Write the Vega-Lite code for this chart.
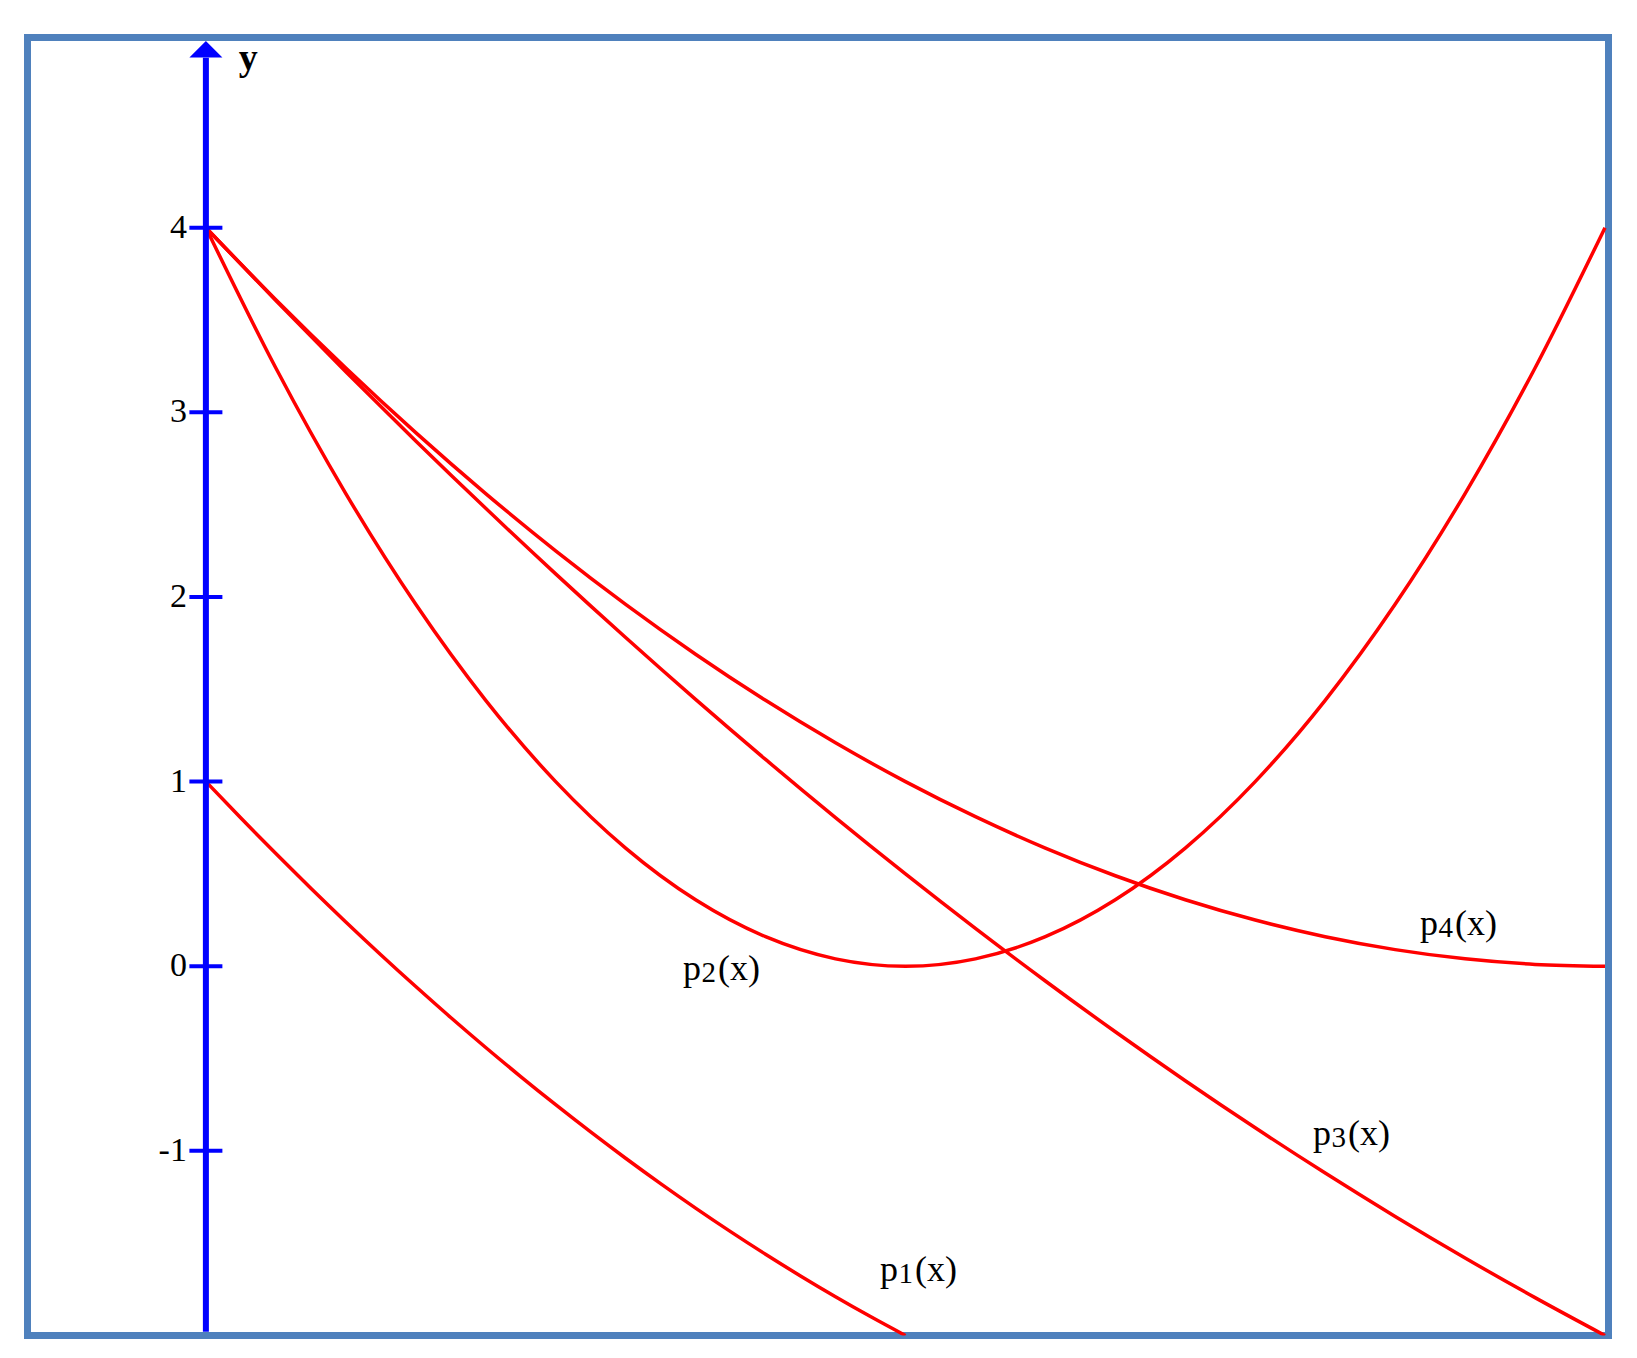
{
  "$schema": "https://vega.github.io/schema/vega-lite/v6.json",
  "width": 1581,
  "height": 1298,
  "autosize": "none",
  "padding": {"left": 27.5, "top": 37.5, "right": 28.5, "bottom": 22.5},
  "background": "white",
  "config": {
    "view": {"stroke": "#4f81bd", "strokeWidth": 7},
    "text": {"font": "Liberation Serif", "color": "black"}
  },
  "datasets": {
    "curves": [
      {"fn": "p1", "x": 0.0, "y": 1.0},
      {"fn": "p1", "x": 0.1, "y": 0.8025},
      {"fn": "p1", "x": 0.2, "y": 0.61},
      {"fn": "p1", "x": 0.3, "y": 0.4225},
      {"fn": "p1", "x": 0.4, "y": 0.24},
      {"fn": "p1", "x": 0.5, "y": 0.0625},
      {"fn": "p1", "x": 0.6, "y": -0.11},
      {"fn": "p1", "x": 0.7, "y": -0.2775},
      {"fn": "p1", "x": 0.8, "y": -0.44},
      {"fn": "p1", "x": 0.9, "y": -0.5975},
      {"fn": "p1", "x": 1.0, "y": -0.75},
      {"fn": "p1", "x": 1.1, "y": -0.8975},
      {"fn": "p1", "x": 1.2, "y": -1.04},
      {"fn": "p1", "x": 1.3, "y": -1.1775},
      {"fn": "p1", "x": 1.4, "y": -1.31},
      {"fn": "p1", "x": 1.5, "y": -1.4375},
      {"fn": "p1", "x": 1.6, "y": -1.56},
      {"fn": "p1", "x": 1.7, "y": -1.6775},
      {"fn": "p1", "x": 1.8, "y": -1.79},
      {"fn": "p1", "x": 1.9, "y": -1.8975},
      {"fn": "p1", "x": 2.0, "y": -2.0},
      {"fn": "p2", "x": 0.0, "y": 4.0},
      {"fn": "p2", "x": 0.2, "y": 3.24},
      {"fn": "p2", "x": 0.4, "y": 2.56},
      {"fn": "p2", "x": 0.6, "y": 1.96},
      {"fn": "p2", "x": 0.8, "y": 1.44},
      {"fn": "p2", "x": 1.0, "y": 1.0},
      {"fn": "p2", "x": 1.2, "y": 0.64},
      {"fn": "p2", "x": 1.4, "y": 0.36},
      {"fn": "p2", "x": 1.6, "y": 0.16},
      {"fn": "p2", "x": 1.8, "y": 0.04},
      {"fn": "p2", "x": 2.0, "y": 0.0},
      {"fn": "p2", "x": 2.2, "y": 0.04},
      {"fn": "p2", "x": 2.4, "y": 0.16},
      {"fn": "p2", "x": 2.6, "y": 0.36},
      {"fn": "p2", "x": 2.8, "y": 0.64},
      {"fn": "p2", "x": 3.0, "y": 1.0},
      {"fn": "p2", "x": 3.2, "y": 1.44},
      {"fn": "p2", "x": 3.4, "y": 1.96},
      {"fn": "p2", "x": 3.6, "y": 2.56},
      {"fn": "p2", "x": 3.8, "y": 3.24},
      {"fn": "p2", "x": 4.0, "y": 4.0},
      {"fn": "p3", "x": 0.0, "y": 4.0},
      {"fn": "p3", "x": 0.2, "y": 3.605},
      {"fn": "p3", "x": 0.4, "y": 3.22},
      {"fn": "p3", "x": 0.6, "y": 2.845},
      {"fn": "p3", "x": 0.8, "y": 2.48},
      {"fn": "p3", "x": 1.0, "y": 2.125},
      {"fn": "p3", "x": 1.2, "y": 1.78},
      {"fn": "p3", "x": 1.4, "y": 1.445},
      {"fn": "p3", "x": 1.6, "y": 1.12},
      {"fn": "p3", "x": 1.8, "y": 0.805},
      {"fn": "p3", "x": 2.0, "y": 0.5},
      {"fn": "p3", "x": 2.2, "y": 0.205},
      {"fn": "p3", "x": 2.4, "y": -0.08},
      {"fn": "p3", "x": 2.6, "y": -0.355},
      {"fn": "p3", "x": 2.8, "y": -0.62},
      {"fn": "p3", "x": 3.0, "y": -0.875},
      {"fn": "p3", "x": 3.2, "y": -1.12},
      {"fn": "p3", "x": 3.4, "y": -1.355},
      {"fn": "p3", "x": 3.6, "y": -1.58},
      {"fn": "p3", "x": 3.8, "y": -1.795},
      {"fn": "p3", "x": 4.0, "y": -2.0},
      {"fn": "p4", "x": 0.0, "y": 4.0},
      {"fn": "p4", "x": 0.2, "y": 3.61},
      {"fn": "p4", "x": 0.4, "y": 3.24},
      {"fn": "p4", "x": 0.6, "y": 2.89},
      {"fn": "p4", "x": 0.8, "y": 2.56},
      {"fn": "p4", "x": 1.0, "y": 2.25},
      {"fn": "p4", "x": 1.2, "y": 1.96},
      {"fn": "p4", "x": 1.4, "y": 1.69},
      {"fn": "p4", "x": 1.6, "y": 1.44},
      {"fn": "p4", "x": 1.8, "y": 1.21},
      {"fn": "p4", "x": 2.0, "y": 1.0},
      {"fn": "p4", "x": 2.2, "y": 0.81},
      {"fn": "p4", "x": 2.4, "y": 0.64},
      {"fn": "p4", "x": 2.6, "y": 0.49},
      {"fn": "p4", "x": 2.8, "y": 0.36},
      {"fn": "p4", "x": 3.0, "y": 0.25},
      {"fn": "p4", "x": 3.2, "y": 0.16},
      {"fn": "p4", "x": 3.4, "y": 0.09},
      {"fn": "p4", "x": 3.6, "y": 0.04},
      {"fn": "p4", "x": 3.8, "y": 0.01},
      {"fn": "p4", "x": 4.0, "y": 0.0}
    ],
    "ticks": [
      {"y": -1, "label": "-1"},
      {"y": 0, "label": "0"},
      {"y": 1, "label": "1"},
      {"y": 2, "label": "2"},
      {"y": 3, "label": "3"},
      {"y": 4, "label": "4"}
    ],
    "names": [
      {"x": 1.927, "y": -1.707, "sub": "1"},
      {"x": 1.364, "y": -0.072, "sub": "2"},
      {"x": 3.165, "y": -0.966, "sub": "3"},
      {"x": 3.471, "y": 0.171, "sub": "4"}
    ]
  },
  "layer": [
    {
      "data": {"name": "curves"},
      "mark": {"type": "line", "color": "#ff0000", "strokeWidth": 3.5, "interpolate": "monotone", "clip": true},
      "encoding": {
        "x": {"field": "x", "type": "quantitative", "scale": {"domain": [-0.51, 4.01], "nice": false, "zero": false}, "axis": null},
        "y": {"field": "y", "type": "quantitative", "scale": {"domain": [-2, 5.03], "nice": false, "zero": false}, "axis": null},
        "detail": {"field": "fn"}
      }
    },
    {
      "data": {"values": [{"x": 0, "y": -1.98, "y2": 4.92}]},
      "mark": {"type": "rule", "color": "#0000ff", "strokeWidth": 6},
      "encoding": {
        "x": {"field": "x", "type": "quantitative"},
        "y": {"field": "y", "type": "quantitative"},
        "y2": {"field": "y2"}
      }
    },
    {
      "data": {"values": [{"x": 0, "y": 4.967}]},
      "mark": {"type": "point", "shape": "M0,-0.5L1,0.5L-1,0.5Z", "size": 1089, "filled": true, "opacity": 1, "color": "#0000ff", "strokeWidth": 0},
      "encoding": {
        "x": {"field": "x", "type": "quantitative"},
        "y": {"field": "y", "type": "quantitative"}
      }
    },
    {
      "data": {"name": "ticks"},
      "mark": {"type": "tick", "orient": "horizontal", "color": "#0000ff", "size": 33, "thickness": 4, "opacity": 1},
      "encoding": {
        "x": {"datum": 0, "type": "quantitative"},
        "y": {"field": "y", "type": "quantitative"}
      }
    },
    {
      "data": {"name": "ticks"},
      "mark": {"type": "text", "align": "right", "baseline": "middle", "dx": -19, "fontSize": 34},
      "encoding": {
        "x": {"datum": 0, "type": "quantitative"},
        "y": {"field": "y", "type": "quantitative"},
        "text": {"field": "label"}
      }
    },
    {
      "data": {"values": [{"x": 0.094, "y": 4.853, "label": "y"}]},
      "mark": {"type": "text", "align": "left", "baseline": "alphabetic", "fontSize": 38, "fontWeight": "bold"},
      "encoding": {
        "x": {"field": "x", "type": "quantitative"},
        "y": {"field": "y", "type": "quantitative"},
        "text": {"field": "label"}
      }
    },
    {
      "data": {"name": "names"},
      "mark": {"type": "text", "align": "left", "baseline": "alphabetic", "fontSize": 36},
      "encoding": {
        "x": {"field": "x", "type": "quantitative"},
        "y": {"field": "y", "type": "quantitative"},
        "text": {"value": "p"}
      }
    },
    {
      "data": {"name": "names"},
      "mark": {"type": "text", "align": "left", "baseline": "alphabetic", "fontSize": 29, "dx": 18.5, "dy": 2},
      "encoding": {
        "x": {"field": "x", "type": "quantitative"},
        "y": {"field": "y", "type": "quantitative"},
        "text": {"field": "sub"}
      }
    },
    {
      "data": {"name": "names"},
      "mark": {"type": "text", "align": "left", "baseline": "alphabetic", "fontSize": 36, "dx": 35},
      "encoding": {
        "x": {"field": "x", "type": "quantitative"},
        "y": {"field": "y", "type": "quantitative"},
        "text": {"value": "(x)"}
      }
    }
  ]
}
